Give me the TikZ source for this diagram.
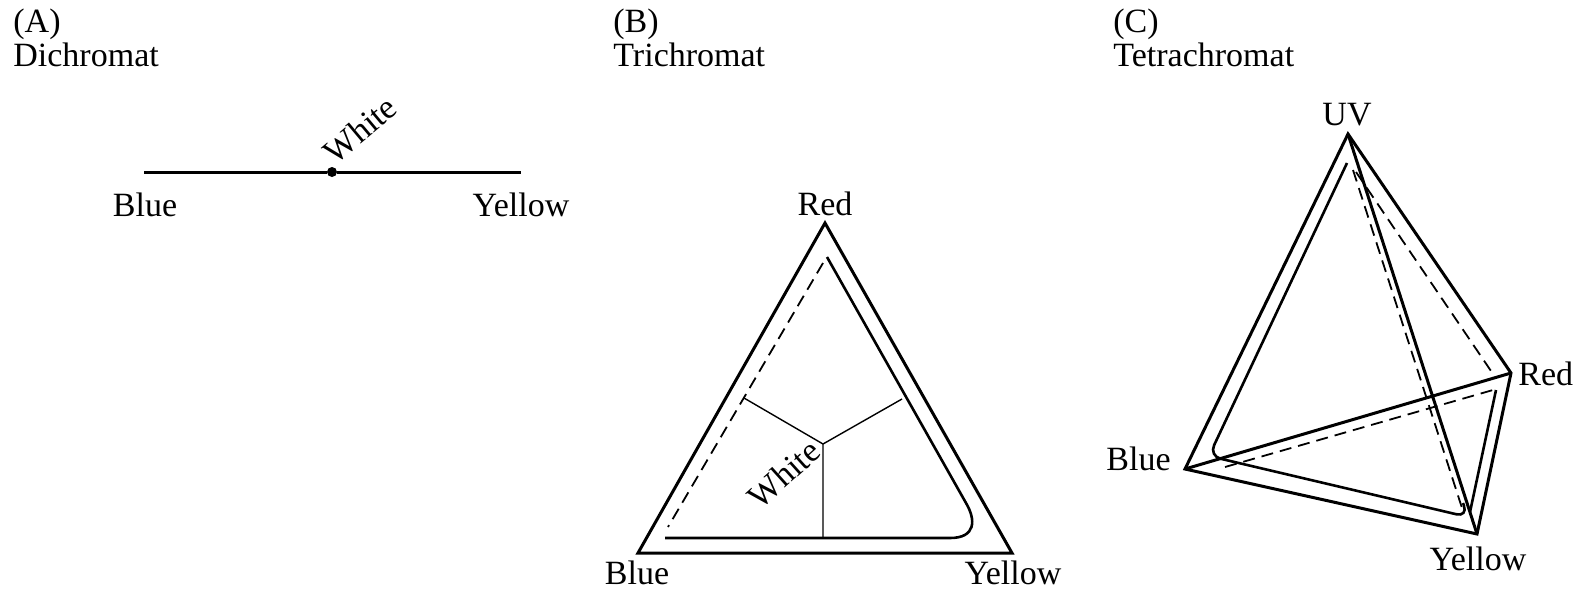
\documentclass[tikz,border=0pt]{standalone}
\usepackage{fontspec}
\setmainfont{Liberation Serif}

\begin{document}
\begin{tikzpicture}[x=0.5pt,y=-0.5pt,
 lbl/.style={font=\fontsize{17}{19}\selectfont,inner sep=0pt},
 edge/.style={line width=1.5pt,line join=miter},
 inner/.style={line width=1.3pt},
 part/.style={line width=0.7pt},
 hidden/.style={line width=0.9pt,dash pattern=on 6pt off 3.5pt},
 dot/.style={circle,fill,inner sep=0pt,minimum size=5pt}]
\useasboundingbox (0,0) rectangle (1580,590);
% (A) dichromat
\node[lbl,anchor=base west] (tA) at (13,32) {(A)};
\node[lbl,anchor=base west] (nA) at (13,66) {Dichromat};
\coordinate (blueA) at (144,172);
\coordinate (yellowA) at (521,172);
\node[dot] (whiteA) at (332,172) {};
\draw[edge] (blueA) -- (whiteA) -- (yellowA);
\node[lbl,anchor=base] (lblueA) at (145,216) {Blue};
\node[lbl,anchor=base] (lyellowA) at (521,216) {Yellow};
\node[lbl,rotate=40] (lwhiteA) at (360,130) {White};
% (B) trichromat
\node[lbl,anchor=base west] (tB) at (613,32) {(B)};
\node[lbl,anchor=base west] (nB) at (613,66) {Trichromat};
\coordinate (redB) at (825,223);
\coordinate (blueB) at (638,553);
\coordinate (yellowB) at (1012,553);
\draw[edge] (redB) -- (blueB) -- (yellowB) -- cycle;
\draw[inner] (827,257) -- (966,503) .. controls (976,520) and (976,538) .. (950,538) -- (665,538);
\draw[hidden] (823,263) -- (668,527);
\coordinate (whiteB) at (823,444);
\draw[part] (744,398) -- (whiteB) -- (902,399) (whiteB) -- (823,538);
\node[lbl,rotate=42] (lwhiteB) at (784,474) {White};
\node[lbl,anchor=base] (lredB) at (825,215) {Red};
\node[lbl,anchor=base] (lblueB) at (637,584) {Blue};
\node[lbl,anchor=base] (lyellowB) at (1013,584) {Yellow};
% (C) tetrachromat
\node[lbl,anchor=base west] (tC) at (1113,32) {(C)};
\node[lbl,anchor=base west] (nC) at (1113,66) {Tetrachromat};
\coordinate (uv) at (1348,134);
\coordinate (red) at (1511,373);
\coordinate (blue) at (1185,469);
\coordinate (yellow) at (1477,534);
\draw[edge] (uv) -- (blue) -- (yellow) -- (red) -- cycle;
\draw[edge] (uv) -- (yellow) (blue) -- (red);
\draw[inner,rounded corners=6pt] (1347,163) -- (1209,456) -- (1468,517) -- (1463,503);
\draw[inner] (1496,390) -- (1470,512);
\draw[hidden] (1353,170) -- (1462,508);
\draw[hidden] (1356,172) -- (1491,371);
\draw[hidden] (1225,467) -- (1493,390);
\node[lbl,anchor=base] (luv) at (1347,125) {UV};
\node[lbl,anchor=base west] (lred) at (1518,385) {Red};
\node[lbl,anchor=base east] (lblue) at (1171,470) {Blue};
\node[lbl,anchor=base] (lyellow) at (1478,570) {Yellow};
\end{tikzpicture}
\end{document}
